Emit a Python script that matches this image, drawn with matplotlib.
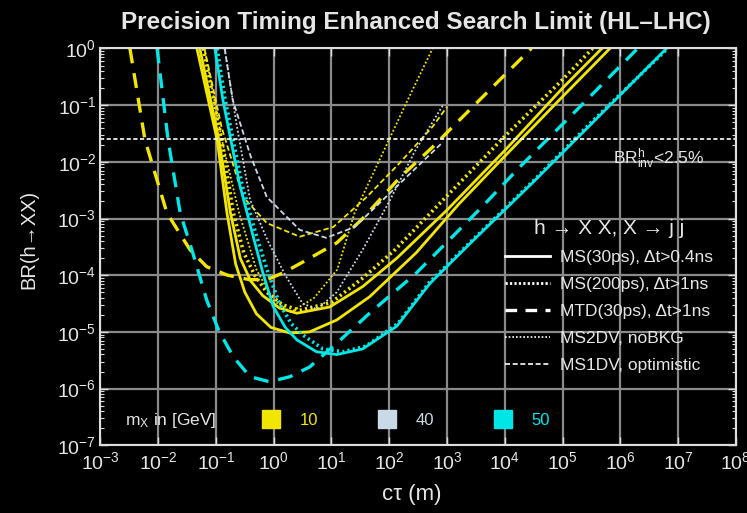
import matplotlib
matplotlib.use("Agg")
import matplotlib.pyplot as plt
from matplotlib.lines import Line2D
import numpy as np

plt.rcParams['font.family'] = ['Liberation Sans', 'DejaVu Sans']
plt.rcParams['mathtext.fontset'] = 'custom'
plt.rcParams['mathtext.rm'] = 'Liberation Sans'
plt.rcParams['mathtext.it'] = 'Liberation Sans:italic'

# curves as (log10 ctau [m], log10 BR)
# m_X = 10 GeV (yellow)
y10_ms30_x = [-1.33, -0.98, -0.81, -0.66, -0.5, -0.3, -0.05, 0.28, 0.62, 1.09, 1.66, 2.47, 3.2, 4.0, 5.0, 5.82]
y10_ms30_y = [0, -1.61, -2.9, -3.8, -4.3, -4.68, -4.92, -5.02, -5.0, -4.79, -4.38, -3.6, -2.75, -1.9, -0.85, 0]
y10_ms30b_x = [-1.28, -0.95, -0.75, -0.58, -0.4, -0.19, 0.1, 0.4, 0.97, 1.54, 2.13, 3.0, 4.0, 5.0, 5.68]
y10_ms30b_y = [0, -1.61, -2.9, -3.7, -4.1, -4.36, -4.58, -4.67, -4.56, -4.2, -3.7, -2.85, -1.8, -0.7, 0]
y10_ms200_x = [-1.22, -0.9, -0.7, -0.52, -0.33, -0.12, 0.15, 0.45, 1.0, 1.54, 2.1, 3.0, 4.0, 5.0, 5.52]
y10_ms200_y = [0, -1.61, -2.9, -3.6, -4.0, -4.3, -4.52, -4.62, -4.48, -4.05, -3.55, -2.6, -1.55, -0.55, 0]
y10_mtd_x = [-2.49, -2.23, -1.85, -1.45, -1.16, -0.8, -0.41, -0.1, 0.16, 0.57, 1.09, 1.54, 2.18, 2.75, 3.1, 4.38, 4.46]
y10_mtd_y = [0, -1.61, -2.9, -3.55, -3.85, -4.0, -4.08, -4.07, -3.96, -3.73, -3.43, -3.0, -2.28, -1.74, -1.38, -0.08, 0]
y10_2dv_x = [-1.2, -0.9, -0.6, -0.3, 0.0, 0.3, 0.7, 1.1, 1.4, 2.3, 2.75]
y10_2dv_y = [0, -1.6, -2.9, -3.9, -4.45, -4.65, -4.4, -3.9, -2.9, -0.95, 0]
y10_1dv_x = [-1.2, -0.9, -0.53, -0.12, 0.45, 1.03, 1.61, 2.18, 2.75, 3.0]
y10_1dv_y = [0, -1.4, -2.62, -3.08, -3.32, -3.15, -2.62, -2.02, -1.38, -1.03]

# m_X = 40 GeV (light grey)
y40_2dv_x = [-0.85, -0.65, -0.41, -0.1, 0.2, 0.5, 0.75, 1.09, 1.54, 2.0, 2.45, 2.93]
y40_2dv_y = [0, -1.3, -2.67, -3.4, -4.0, -4.5, -4.6, -4.3, -3.55, -2.7, -1.8, -1.0]
y40_1dv_x = [-0.85, -0.71, -0.4, -0.12, 0.45, 0.91, 1.4, 1.89, 2.48, 2.93]
y40_1dv_y = [0, -0.91, -1.9, -2.62, -3.2, -3.34, -3.15, -2.67, -2.09, -1.65]

# m_X = 50 GeV (cyan)
y50_ms30_x = [-1.02, -0.88, -0.59, -0.36, -0.19, -0.01, 0.2, 0.4, 0.74, 1.09, 1.54, 2.13, 2.7, 3.39, 4.5, 5.5, 6.8]
y50_ms30_y = [0, -0.91, -2.4, -3.3, -3.95, -4.55, -4.92, -5.14, -5.35, -5.4, -5.3, -4.9, -4.15, -3.45, -2.35, -1.33, 0]
y50_ms200_x = [-0.98, -0.84, -0.55, -0.3, -0.1, 0.1, 0.3, 0.5, 0.85, 1.2, 1.6, 2.15, 2.7, 3.4, 4.5, 5.5, 6.82]
y50_ms200_y = [0, -0.91, -2.4, -3.3, -3.95, -4.5, -4.85, -5.05, -5.3, -5.35, -5.25, -4.85, -4.12, -3.42, -2.33, -1.3, 0]
y50_mtd_x = [-2.02, -1.83, -1.62, -1.4, -1.16, -0.95, -0.7, -0.41, -0.07, 0.28, 0.62, 1.09, 1.66, 2.47, 3.62, 4.26, 5.3, 6.3]
y50_mtd_y = [0, -1.61, -2.9, -3.61, -4.44, -4.98, -5.44, -5.79, -5.88, -5.79, -5.62, -5.2, -4.67, -3.96, -2.78, -2.09, -1.03, 0]

br_inv = 0.025
masses = ['10', '40', '50']
x_decades = list(range(-3, 9))
y_decades = list(range(-7, 1))

YEL = '#f2e600'
GRY = '#c9d9e6'
CYA = '#00e6e6'
TXT = '#e6e6e6'

fig = plt.figure(figsize=(7.47, 5.13), dpi=100, facecolor='black')
ax = fig.add_axes([0.1345, 0.132, 0.8505, 0.7735], facecolor='black')

def curve(xs, ys, color, **kw):
    ax.plot(10.0 ** np.array(xs), 10.0 ** np.array(ys), color=color, solid_joinstyle='round', **kw)

solid = dict(lw=2.0, ls='-')
dots = dict(lw=2.6, ls=(0, (0.6, 0.9)))
dash = dict(lw=2.4, ls=(0, (4.5, 3.0)))
thin_dot = dict(lw=1.3, ls=(0, (1, 1.2)))
thin_dash = dict(lw=1.3, ls=(0, (3, 1.6)))

curve(y10_ms30_x, y10_ms30_y, YEL, **solid)
curve(y10_ms30b_x, y10_ms30b_y, YEL, **solid)
curve(y10_ms200_x, y10_ms200_y, YEL, **dots)
curve(y10_mtd_x, y10_mtd_y, YEL, **dash)
curve(y10_2dv_x, y10_2dv_y, YEL, **thin_dot)
curve(y10_1dv_x, y10_1dv_y, YEL, **thin_dash)
curve(y40_2dv_x, y40_2dv_y, GRY, **thin_dot)
curve(y40_1dv_x, y40_1dv_y, GRY, **thin_dash)
curve(y50_ms30_x, y50_ms30_y, CYA, **solid)
curve(y50_ms200_x, y50_ms200_y, CYA, **dots)
curve(y50_mtd_x, y50_mtd_y, CYA, **dash)

ax.axhline(br_inv, color='white', lw=1.2, ls=(0, (2.5, 1.5)))
ax.text(10 ** 5.88, 10 ** -1.95, r'$\mathregular{BR^{h}_{inv}}$<2.5%', color=TXT, fontsize=12.5, va='center')

ax.set_xscale('log')
ax.set_yscale('log')
ax.set_xlim(1e-3, 1e8)
ax.set_ylim(1e-7, 1)
ax.set_xticks([10.0 ** d for d in x_decades])
ax.set_xticklabels([r'$\mathregular{10^{%d}}$' % d for d in x_decades])
ax.set_yticks([10.0 ** d for d in y_decades])
ax.set_yticklabels([r'$\mathregular{10^{%d}}$' % d for d in y_decades])
ax.grid(True, which='major', color='#8a8a8a', lw=1.6)
ax.set_axisbelow(True)
ax.tick_params(which='both', direction='in', colors='#dddddd', top=True, right=True, labelsize=14)
ax.tick_params(which='major', length=6, width=1)
ax.tick_params(which='minor', length=3, width=0.8)
ax.tick_params(axis='x', labelcolor=TXT, pad=4)
ax.tick_params(axis='y', labelcolor=TXT, pad=3)
for s in ax.spines.values():
    s.set_color('#dddddd')
    s.set_linewidth(1.5)

ax.set_xlabel('cτ (m)', color=TXT, fontsize=16)
ax.xaxis.set_label_coords(0.49, -0.098)
ax.set_ylabel('BR(h→XX)', color=TXT, fontsize=14.5)
ax.yaxis.set_label_coords(-0.097, 0.52)
fig.text(0.557, 0.957, 'Precision Timing Enhanced Search Limit (HL–LHC)', color=TXT,
         fontsize=17.5, fontweight='bold', ha='center', va='center')

# line style legend
handles = [Line2D([], [], color='white', **solid),
           Line2D([], [], color='white', lw=2.0, ls=(0, (0.8, 0.8))),
           Line2D([], [], color='white', lw=2.4, ls=(0, (3.5, 2.5))),
           Line2D([], [], color='white', lw=1.2, ls=(0, (1, 1.2))),
           Line2D([], [], color='white', lw=1.2, ls=(0, (3, 1.6)))]
labels = ['MS(30ps), Δt>0.4ns', 'MS(200ps), Δt>1ns', 'MTD(30ps), Δt>1ns', 'MS2DV, noBKG', 'MS1DV, optimistic']
leg = ax.legend(handles, labels, loc='upper left', bbox_to_anchor=(0.612, 0.61), frameon=False,
                title='h → X X, X → j j', fontsize=12.5, handlelength=2.6, labelspacing=0.68,
                handletextpad=0.55)
leg.get_title().set_color(TXT)
leg.get_title().set_fontsize(15)
for t in leg.get_texts():
    t.set_color(TXT)
ax.add_artist(leg)

# mass legend
mh = [Line2D([], [], color=c, marker='s', ms=13, ls='none') for c in (YEL, GRY, CYA)]
leg2 = ax.legend(mh, masses, loc='center left', bbox_to_anchor=(0.218, 0.063), ncol=3, frameon=False,
                 fontsize=12, handlelength=2.0, handletextpad=0.75, columnspacing=3.1)
for t, c in zip(leg2.get_texts(), (YEL, GRY, CYA)):
    t.set_color(c)
ax.text(0.038, 0.063, r'$\mathregular{m_X}$ in [GeV]', transform=ax.transAxes, color=TXT, fontsize=12.5, va='center')

fig.savefig('out.png', dpi=100, facecolor='black')
